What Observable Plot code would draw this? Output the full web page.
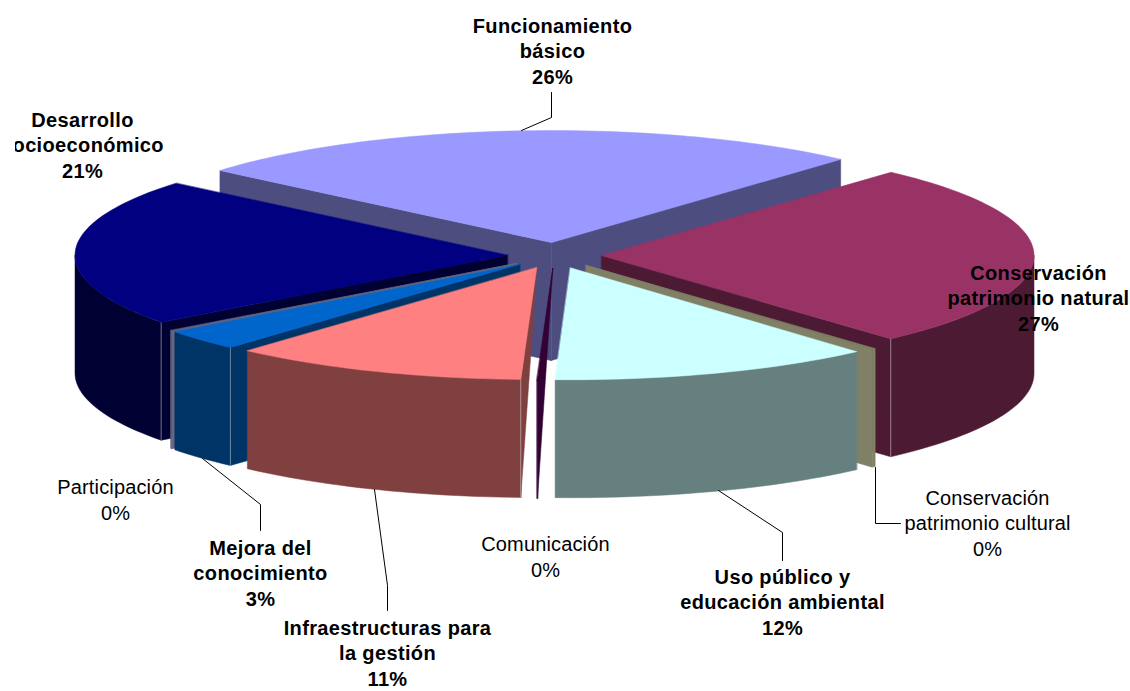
<!DOCTYPE html>
<html>
<head>
<meta charset="utf-8">
<script src="https://cdn.jsdelivr.net/npm/d3@7"></script>
<script src="https://cdn.jsdelivr.net/npm/@observablehq/plot@0.6"></script>
<style>
  html, body { margin: 0; padding: 0; background: #fff; }
  svg { display: block; letter-spacing: 0.15px; }
  svg g[font-weight="bold"] { letter-spacing: 0.36px; }
</style>
</head>
<body>
<div id="chart"></div>
<script>
// Data, in clockwise slice order, starting from the back-left of the pie
const categories = ["Funcionamiento\nbásico", "Conservación\npatrimonio natural", "Conservación\npatrimonio cultural", "Uso público y\neducación ambiental", "Comunicación", "Infraestructuras para\nla gestión", "Mejora del\nconocimiento", "Participación", "Desarrollo\nsocioeconómico"];
const shares = [25.56, 26.67, 0.14, 12.08, 0.03, 11.08, 3.03, 0.08, 21.33];

// Styles
const topColors = ["#9999ff", "#993366", "#808066", "#ccffff", "#330033", "#ff8080", "#0066cc", "#666680", "#000080"];
const sideColors = ["#4d4d80", "#4d1a33", "#808066", "#668080", "#330033", "#804040", "#003366", "#666680", "#000033"];
const paintOrder = [0, 1, 8, 2, 7, 6, 3, 4, 5];
const seamed = [1, 5, 6, 8];

// Pie geometry
const W = 1130, H = 691;
const cx = 554, cy = 255, rx = 432.5, ry = 112, depth = 118, ex = 47, ey = 13, firstAngle = -50;
const rad = d => d * Math.PI / 180;
const total = d3.sum(shares);
let acc = firstAngle;
const slices = shares.map((v, i) => {
  const start = acc, end = acc + v / total * 360;
  acc = end;
  const mid = rad((start + end) / 2);
  return {i, start, end, ax: cx + ex * Math.sin(mid), ay: cy - ey * Math.cos(mid)};
});
const rim = (s, a, dz = 0) => ({x: s.ax + rx * Math.sin(rad(a)), y: s.ay - ry * Math.cos(rad(a)) + dz});
const arc = (s, a0, a1, dz = 0) => {
  const n = Math.max(2, Math.ceil(Math.abs(a1 - a0) / 1.5));
  return d3.range(n + 1).map(k => rim(s, a0 + (a1 - a0) * k / n, dz));
};
const poly = (pts, color) => Plot.line(pts, {x: "x", y: "y", curve: "linear-closed", fill: color, stroke: color, strokeWidth: 0.5});
const apex = (s, dz = 0) => ({x: s.ax, y: s.ay + dz});

const radialFace = (s, a, color) => {
  const pts = [apex(s), rim(s, a), rim(s, a, depth)];
  if (Math.abs(a - 180) > 10) pts.push(apex(s, depth));
  return poly(pts, color);
};

const pieMarks = [];
for (const i of paintOrder) {
  const s = slices[i], side = sideColors[i];
  const sa = (s.start + 360) % 360, ea = (s.end + 360) % 360;
  if (sa >= 180) pieMarks.push(radialFace(s, sa, side));
  if (ea <= 180) pieMarks.push(radialFace(s, ea, side));
  const w0 = Math.max(s.start, 90), w1 = Math.min(s.end, 270);
  if (w1 > w0) pieMarks.push(poly([...arc(s, w0, w1), ...arc(s, w1, w0, depth)], side));
  if (seamed.includes(i)) {
    const a = i === 1 ? ea : sa;
    pieMarks.push(Plot.line([rim(s, a), rim(s, a, depth)], {x: "x", y: "y", stroke: "#d8d8d8", strokeOpacity: 0.5, strokeWidth: 1}));
  }
  pieMarks.push(poly([apex(s), ...arc(s, s.start, s.end)], topColors[i]));
}

// Labels
const labelX = [552, 1038, 987, 782, 545, 387, 260, 115, 82];
const labelY = [49.5, 296.5, 521.5, 600.5, 555.5, 651.5, 571.5, 498.5, 143.5];
const labels = categories.map((c, i) => ({
  text: `${c}\n${Math.round(shares[i])}%`, x: labelX[i], y: labelY[i], bold: Math.round(shares[i]) > 0
}));
const leaderA = [{x: 521, y: 130}, {x: 551, y: 117}, {x: 551, y: 92}];
const leaderB = [{x: 875, y: 467}, {x: 875, y: 523}, {x: 900, y: 523}];
const leaderC = [{x: 718, y: 490}, {x: 782, y: 532}, {x: 782, y: 560}];
const leaderD = [{x: 374, y: 489}, {x: 387, y: 585}, {x: 387, y: 610}];
const leaderE = [{x: 202, y: 458}, {x: 260, y: 504}, {x: 260, y: 530}];
const leaders = [leaderA, leaderB, leaderC, leaderD, leaderE].map(l =>
  Plot.line(l, {x: "x", y: "y", stroke: "#000", strokeWidth: 1}));

const textOpts = {x: "x", y: "y", text: "text", fontSize: 20, lineHeight: 1.27, textAnchor: "middle", fill: "#000", stroke: "none"};
const chart = Plot.plot({
  width: W, height: H,
  margin: 0,
  style: {background: "#fff", fontFamily: "'Liberation Sans', Arial, sans-serif", clipPath: "inset(0 0 0 15px)"},
  x: {domain: [0, W], range: [0, W], axis: null},
  y: {domain: [0, H], range: [0, H], axis: null},
  marks: [
    ...pieMarks,
    ...leaders,
    Plot.text(labels.filter(d => d.bold), {...textOpts, fontWeight: "bold"}),
    Plot.text(labels.filter(d => !d.bold), textOpts)
  ]
});
document.getElementById("chart").append(chart);
</script>
</body>
</html>
